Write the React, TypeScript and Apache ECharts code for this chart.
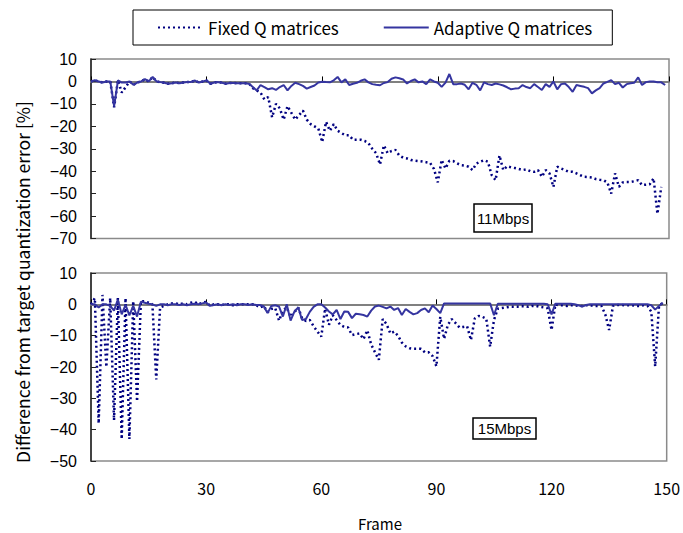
import React, { useEffect, useRef } from "react";
import * as echarts from "echarts";

// Frame tick labels
const frameTicks = [0, 30, 60, 90, 120, 150];

// 11 Mbps panel (frame index = array index)
const fixed11 = [
  0, 0.5, 0, -0.5, 0, 0, -11.5, 0.5, -5, -2.5,
  0, -1.5, -0.5, 0, 1, 0, 2, 0, -0.3, -0.6,
  -1, -0.8, -0.5, -0.8, -0.5, -0.3, -0.2, 0.4, -0.5, 0,
  0.4, -1, -0.5, -0.3, -0.6, -1, -0.7, -0.7, -0.8, -0.8,
  -0.8, -1, -3, -4, -5, -8, -7, -16, -10, -12,
  -17, -11, -14, -17, -15, -13, -17, -19, -20, -21,
  -27, -18, -22, -19, -22, -23, -24, -24, -26, -26,
  -26, -26.5, -27.5, -30, -32, -37, -28.5, -32, -31, -30.5,
  -33, -34, -34.3, -35, -35.3, -35.5, -35.7, -36, -36.3, -39,
  -45, -35, -38.8, -35.4, -35.5, -36.5, -37.3, -37.5, -38, -39.5,
  -36.6, -35.8, -35.1, -35.8, -41.8, -44, -33, -39.5, -37.8, -38.3,
  -38.6, -39, -39.5, -39.2, -40, -40.3, -39.5, -42.5, -39.5, -41,
  -47, -38, -38.8, -39.5, -40.3, -40.3, -41, -41.8, -42.5, -42.6,
  -42.8, -43.5, -43.8, -44, -45, -50, -41, -47, -45, -44.8,
  -44.8, -44.5, -44, -46.2, -46, -45.8, -43.2, -59, -47,
];
const adaptive11 = [
  0, 0.5, 0, -0.5, 0, 0, -11, 0.5, -0.5, -0.5,
  0, -1.5, -0.5, 0, 1, 0, 2, 0, -0.3, -0.6,
  -1, -0.8, -0.5, -0.8, -0.5, -0.3, -0.2, 0.4, -0.5, 0,
  0.4, -1, -0.5, -0.3, -0.6, -1, -0.7, -0.7, -0.8, -0.8,
  -0.8, -1, -2.5, -4, -1.6, -2.5, -3.5, -3, -3.8, -2.5,
  -1.6, -4, -2, -0.6, -1.2, -2, -3.2, -2.5, -1.8, -0.5,
  -0.1, -0.3, -0.4, 0.5, 2, -0.4, 0.9, -1.6, -1, -0.6,
  0.3, 0.9, -0.4, -1.2, -1.5, -1.7, -0.7, -0.3, 1.2, 1.8,
  1.4, 0.9, -0.9, 0.2, 0.9, -0.4, 0, -1.2, 0.9, 0,
  -0.6, -2.4, -0.5, 3.3, -1.2, -1.2, -0.9, -1.5, -3.5, -0.6,
  -1.5, -4, -0.4, -1.2, -1.6, -0.9, -1.3, -1.8, -2.6, -3.5,
  -3.2, -3, -1.6, -2.5, -3, -1.2, -2.5, -3.8, -1.2, -2.4,
  0, -3.5, -1.2, -0.9, -2.5, -4.6, -1.6, -2, -2.4, -3,
  -5.3, -4, -3, -0.9, -0.2, 0.6, -1.2, -0.6, -2.7, -1.2,
  -0.8, -0.6, 1.8, -1.6, -0.3, 0, 0, -0.4, -0.4, -1.6,
];

// 15 Mbps panel
const fixed15 = [
  0, 2, -38, 3, -20, 2, -37, 2, -43, 2,
  -43, 1, -31, 1, 1, 0.5, 0, -24, -1, -0.5,
  0, 0.3, 0.3, 0, 0.3, 0, 0.5, 0.8, 0, 0.5,
  0.8, -0.5, 0, 0, -0.2, 0, 0, -0.3, 0, 0,
  0, 0, 0, -0.2, -1, -0.5, -2.5, -1.5, -1.2, -5.2,
  -2, -1, -4, -2.5, -1, -4.5, -5.3, -5, -7, -8.7,
  -10.3, -1.4, -6.5, -3.5, -5, -6.6, -7.2, -7.4, -9.8, -9.5,
  -9.3, -11.1, -8.3, -12.8, -15.3, -17.7, -4.7, -6.3, -9.3, -8.7,
  -10, -12.2, -13.4, -14, -14.2, -14.2, -14.2, -15.3, -15.3, -16.5,
  -19.8, -4, -11, -6.5, -4.7, -6, -7.4, -7.2, -7, -11.4,
  -4.5, -3.7, -4, -4.6, -13.5, -5, -1.4, -1.2, -1, -0.8,
  -0.8, -0.8, -0.6, -0.6, -0.8, -0.5, -0.5, -0.8, -1, -1.3,
  -8.2, 0, -0.3, -0.3, -0.5, -0.3, -0.3, -0.5, -0.5, -0.3,
  -0.3, -0.5, -0.5, -0.5, -3.2, -8.2, -0.5, -0.2, -0.2, -0.3,
  -0.3, -0.3, -0.5, -0.5, -0.3, -0.5, -2.4, -19.8, -0.5, 0.5,
];
const adaptive15 = [
  0, 0, -1, 0, 0, -0.5, -2, 1.5, -3.2, -0.2,
  -3.5, -0.5, -3.9, 0.8, 0.5, 0.2, 0, -0.5, 0, 0,
  -0.3, 0, 0, -0.2, 0, -0.3, 0, 0.2, 0, 0.3,
  0.6, -0.5, -0.2, 0, -0.3, 0, -0.2, 0, -0.3, 0,
  0, -0.2, 0, -0.2, -0.2, -0.6, -2.8, -0.5, -0.3, -0.7,
  -3.9, 0, -5.2, -2.3, -1, -5, -4.7, -2.4, -0.8, 0,
  0, -1, -2.3, -3.2, -1.8, -4.7, -2.3, -2.4, -4.4, -3,
  -3.2, -3.4, -3.9, -2, -0.7, -0.4, -0.8, -1.3, -0.7, -1.8,
  -1.2, -3.4, -1.5, -2.4, -3.2, -2.8, -1.8, -1.3, -2.5, -0.4,
  -1.5, -2.8, 0.3, 0.3, 0.3, 0.3, 0.3, 0.3, 0.3, 0.3,
  0.3, 0.3, 0.3, 0.3, 0.3, -3.5, 0.2, 0.2, 0.2, 0.2,
  0.2, 0.2, 0.2, 0.2, 0.2, 0.2, 0.2, 0.2, 0.2, 0,
  -3.2, 0.2, 0.2, 0.2, 0.2, 0.2, 0, -0.3, -0.7, -0.2,
  0, 0, 0, 0, 0, 0, 0, 0, 0, 0,
  0, 0, 0, 0, 0, 0, -0.3, -1.7, -0.5, 0.5,
];

const FIXED = "Fixed Q matrices";
const ADAPTIVE = "Adaptive Q matrices";
const panelLabels = ["11Mbps", "15Mbps"];

const FIXED_COLOR = "#000080";
const ADAPT_COLOR = "#3535a0";
const SANS = "'Liberation Sans', Arial, sans-serif";
const GOTHIC = "'Noto Sans CJK JP', 'Liberation Sans', sans-serif";

const toPairs = (arr: number[]) => arr.map((v, i) => [i, v]);
const minus = (v: number) => String(v).replace("-", "\u2212");

export default function App() {
  const ref = useRef<HTMLDivElement>(null);

  useEffect(() => {
    if (!ref.current) return;
    const chart = echarts.init(ref.current, undefined, { renderer: "svg" });

    const gridCommon = {
      left: 91,
      width: 578,
      show: true,
      borderColor: "#8a8a8a",
      borderWidth: 1.5,
      backgroundColor: "#ffffff",
    };

    const zeroAxis = (gridIndex: number) => ({
      type: "value",
      gridIndex,
      min: 0,
      max: 150,
      interval: 30,
      axisLine: { show: true, onZero: true, lineStyle: { color: "#808080", width: 2 } },
      axisTick: { show: true, inside: true, length: 5, lineStyle: { color: "#000", width: 1 } },
      axisLabel: { show: false },
      splitLine: { show: false },
    });

    const yAxis = (gridIndex: number, min: number) => ({
      type: "value",
      gridIndex,
      min,
      max: 10,
      interval: 10,
      axisLine: { show: true, onZero: false, lineStyle: { color: "#222", width: 1.5 } },
      axisTick: { show: true, inside: true, length: 5, lineStyle: { color: "#222", width: 1 } },
      axisLabel: {
        show: true,
        margin: 14,
        fontSize: 16,
        fontFamily: SANS,
        color: "#000",
        formatter: (v: number) => minus(v),
      },
      splitLine: { show: false },
    });

    const fixedSeries = (idx: number, data: number[]) => ({
      name: FIXED,
      type: "line",
      xAxisIndex: idx,
      yAxisIndex: idx,
      data: toPairs(data),
      symbol: "none",
      lineStyle: { color: FIXED_COLOR, width: 2.5, type: [2, 3] },
      itemStyle: { color: FIXED_COLOR },
      z: 3,
    });
    const adaptiveSeries = (idx: number, data: number[]) => ({
      name: ADAPTIVE,
      type: "line",
      xAxisIndex: idx,
      yAxisIndex: idx,
      data: toPairs(data),
      symbol: "none",
      lineStyle: { color: ADAPT_COLOR, width: 2, type: "solid" },
      itemStyle: { color: ADAPT_COLOR },
      z: 4,
    });

    const boxLabel = (text: string, x: number, y: number, w: number, h: number) => ({
      type: "group",
      z: 100,
      children: [
        {
          type: "rect",
          shape: { x, y, width: w, height: h },
          style: { fill: "#fff", stroke: "#000", lineWidth: 1.5 },
        },
        {
          type: "text",
          x: x + w / 2,
          y: y + h / 2,
          style: {
            text,
            fill: "#000",
            font: `15px ${SANS}`,
            align: "center",
            verticalAlign: "middle",
          },
        },
      ],
    });

    chart.setOption({
      animation: false,
      backgroundColor: "#ffffff",
      grid: [
        { ...gridCommon, top: 59, height: 179.5 },
        { ...gridCommon, top: 273, height: 188 },
      ],
      xAxis: [
        zeroAxis(0),
        zeroAxis(1),
        {
          type: "value",
          gridIndex: 1,
          position: "bottom",
          min: 0,
          max: 150,
          interval: 30,
          axisLine: { show: false, onZero: false },
          axisTick: { show: false },
          axisLabel: {
            show: true,
            margin: 19,
            fontSize: 16,
            fontFamily: GOTHIC,
            color: "#000",
            customValues: frameTicks,
          },
          splitLine: { show: false },
        },
      ],
      yAxis: [yAxis(0, -70), yAxis(1, -50)],
      legend: {
        left: 133,
        top: 10,
        padding: [9, 20, 9, 24],
        itemGap: 44,
        itemWidth: 45,
        itemHeight: 14,
        borderColor: "#000",
        borderWidth: 1,
        backgroundColor: "#fff",
        itemStyle: { opacity: 0 },
        textStyle: { fontSize: 17, fontFamily: GOTHIC, color: "#000" },
        data: [FIXED, ADAPTIVE],
      },
      series: [
        fixedSeries(0, fixed11),
        adaptiveSeries(0, adaptive11),
        fixedSeries(1, fixed15),
        adaptiveSeries(1, adaptive15),
      ],
      graphic: [
        boxLabel(panelLabels[0], 474, 204, 58, 28),
        boxLabel(panelLabels[1], 473, 418, 63, 21),
        {
          type: "text",
          x: 22,
          y: 282,
          rotation: Math.PI / 2,
          style: {
            text: "Difference from target quantization error [%]",
            fill: "#000",
            font: `17.5px ${GOTHIC}`,
            align: "center",
            verticalAlign: "middle",
          },
        },
        {
          type: "text",
          x: 380,
          y: 523,
          style: {
            text: "Frame",
            fill: "#000",
            font: `15px ${GOTHIC}`,
            align: "center",
            verticalAlign: "middle",
          },
        },
      ],
    });

    return () => chart.dispose();
  }, []);

  return (
    <div
      ref={ref}
      style={{ position: "fixed", left: 0, top: 0, width: 683, height: 533, background: "#fff" }}
    />
  );
}
